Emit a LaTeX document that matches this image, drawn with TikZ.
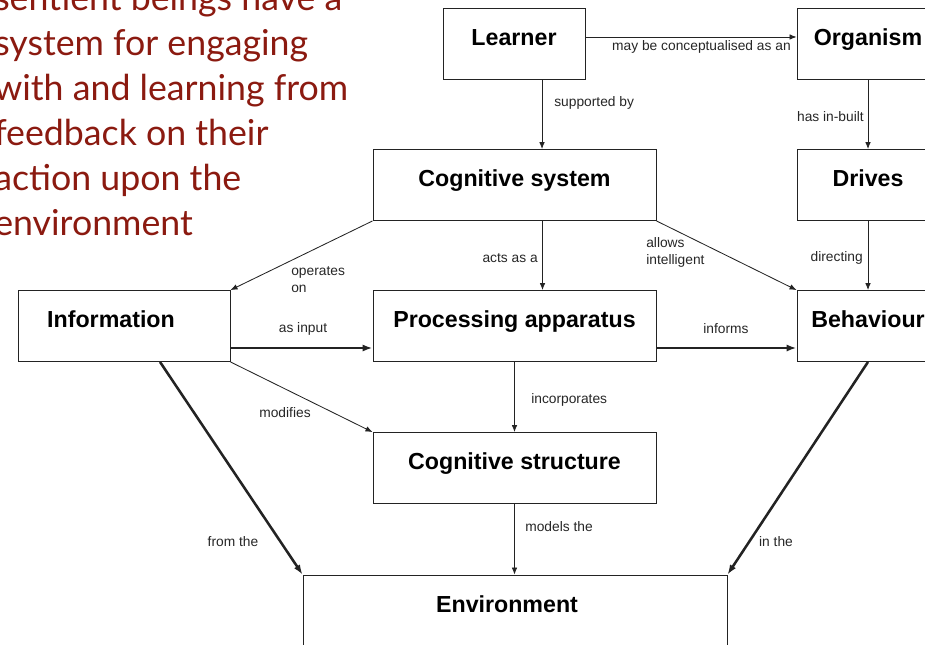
\documentclass[tikz,border=0pt]{standalone}
\usepackage{fontspec}
\setmainfont{Liberation Sans}
\newfontfamily\slidefont{Lato}
\usetikzlibrary{arrows.meta, positioning}
\definecolor{slidered}{RGB}{139,26,16}
\definecolor{linegray}{RGB}{35,35,35}

\begin{document}
\begin{tikzpicture}[
      x=0.025cm, y=-0.025cm,
      box/.style={draw=linegray, line width=0.6pt, inner sep=0pt,
                  minimum height=1.775cm, text height=11.8pt, text depth=9.2pt,
                  font=\fontsize{16.5}{18}\selectfont\bfseries},
      smallbox/.style={box, minimum width=3.55cm},
      widebox/.style={box, minimum width=7.075cm},
      lbl/.style={inner sep=0pt, align=left, font=\fontsize{9.8}{12}\selectfont, text=black!85},
      arr/.style={-{Latex[length=5pt, width=4pt]}, line width=0.6pt, linegray},
      thickarr/.style={-{Latex[length=7pt, width=5pt]}, line width=1.8pt, linegray},
      redtext/.style={inner sep=0pt, align=left, text=slidered,
                      font=\slidefont\fontsize{25.4}{32}\selectfont}
    ]
    \useasboundingbox (0,0) rectangle (925,644);
    \clip (0,0) rectangle (925,644);

    %% Slide text
    \node[redtext, anchor=base west] (slide) at (-6,235)
      {sentient beings have a\\system for engaging\\with and learning from\\feedback on their\\action upon the\\environment};

    %% Concepts
    \node[smallbox] (learner)  at (514,43.5)  {Learner};
    \node[smallbox] (organism) at (868,43.5)  {Organism};
    \node[widebox]  (cogsys)   at (514.5,185) {Cognitive system};
    \node[smallbox] (drives)   at (868,185)   {Drives};
    \node[box, minimum width=5.3cm] (info) at (124,326) {Information\kern0.65cm};
    \node[widebox]  (proc)     at (514.5,326) {Processing apparatus};
    \node[smallbox] (behav)    at (868,326)   {Behaviour};
    \node[widebox]  (cogstr)   at (514.5,468) {Cognitive structure};
    \node[box, minimum width=10.6cm] (env) at (515,610.5) {Environment\kern0.4cm};

    %% Links
    \draw[arr] ([yshift=0.1625cm]learner.east) -- ([yshift=0.1625cm]organism.west);
    \draw[arr] ([xshift=0.7cm]learner.south) -- ([xshift=0.7cm]learner.south |- cogsys.north);
    \draw[arr] (organism) -- (drives);
    \draw[arr] (drives) -- (behav);
    \draw[arr] (cogsys.south west) -- (info.north east);
    \draw[arr] ([xshift=0.7cm]cogsys.south) -- ([xshift=0.7cm]cogsys.south |- proc.north);
    \draw[arr] (cogsys.south east) -- (behav.north west);
    \draw[thickarr] ([yshift=-0.55cm]info.east) -- ([yshift=-0.55cm]info.east -| proc.west);
    \draw[thickarr] ([yshift=-0.55cm]proc.east) -- ([yshift=-0.55cm]proc.east -| behav.west);
    \draw[arr] (proc) -- (cogstr);
    \draw[arr] (info.south east) -- (cogstr.north west);
    \draw[arr] (cogstr.south) -- (cogstr.south |- env.north);
    \draw[thickarr] ([xshift=0.9cm]info.south) -- (env.north west);
    \draw[thickarr] (behav.south) -- (env.north east);

    %% Link labels
    \node[lbl, anchor=east] (t1)  at (791,47)  {may be conceptualised as an};
    \node[lbl, anchor=west] (t2)  at (554,103) {supported by};
    \node[lbl, anchor=east] (t3)  at (864,117) {has in-built};
    \node[lbl, anchor=west] (t4)  at (291,280) {operates\\on};
    \node[lbl, anchor=east] (t5)  at (538,258) {acts as a};
    \node[lbl, anchor=west] (t6)  at (646,252) {allows\\intelligent};
    \node[lbl, anchor=east] (t7)  at (863,258) {directing};
    \node[lbl]              (t8)  at (303,329) {as input};
    \node[lbl]              (t9)  at (726,329) {informs};
    \node[lbl, anchor=west] (t10) at (531,400) {incorporates};
    \node[lbl]              (t11) at (285,413) {modifies};
    \node[lbl, anchor=west] (t12) at (525,527) {models the};
    \node[lbl]              (t13) at (233,542) {from the};
    \node[lbl]              (t14) at (776,542) {in the};
  \end{tikzpicture}
\end{document}
